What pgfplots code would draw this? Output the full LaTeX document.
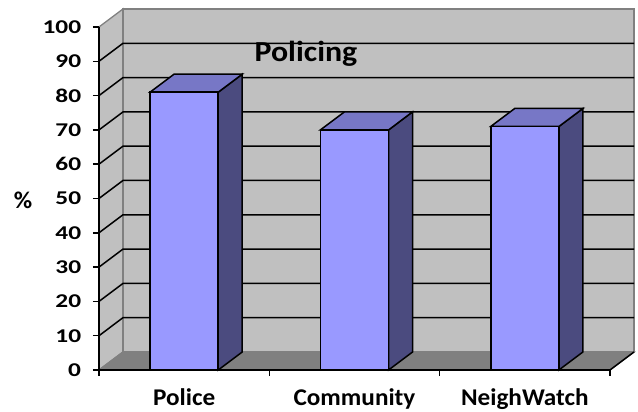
\documentclass[border=0pt]{standalone}
\usepackage{pgfplots}
\pgfplotsset{compat=1.18}
\usepackage{fontspec}
\setmainfont{Carlito}
\newfontfamily\tickfont{Carlito}[FakeStretch=1.3]
\newfontfamily\labfont{Carlito}[FakeStretch=1.05]
\newfontfamily\titfont{Carlito}[FakeStretch=1.1]
\definecolor{wall}{HTML}{C0C0C0}
\definecolor{wallline}{HTML}{808080}
\definecolor{floorc}{HTML}{808080}
\definecolor{barfront}{HTML}{9999FF}
\definecolor{bartop}{HTML}{7777C6}
\definecolor{barside}{HTML}{4B4B7F}
\begin{document}
\begin{tikzpicture}
\begin{axis}[
  width=511pt, height=343pt, scale only axis,
  xmin=0, xmax=3, ymin=0, ymax=100,
  clip=false, axis on top,
  axis x line=bottom, axis y line=left,
  axis line style={-, line width=1.5pt, black},
  ytick={0,10,...,100},
  xtick={0,1,2,3}, xticklabels={},
  extra x ticks={0.5,1.5,2.5},
  extra x tick labels={Police,Community,NeighWatch},
  extra x tick style={major tick length=0pt},
  tick align=outside,
  major tick length=6pt,
  tick style={black, line width=1.5pt},
  /pgf/number format/assume math mode=true,
  yticklabel style={font=\tickfont\bfseries\fontsize{19.5}{20}\selectfont, anchor=east, inner sep=0pt, xshift=-11.7pt},
  xticklabel style={font=\labfont\bfseries\fontsize{24}{26}\selectfont, anchor=base, inner sep=0pt, yshift=-35.3pt},
]
% back wall, side wall, floor
\addplot[fill=wall, draw=wallline, line width=1.3pt] coordinates {(0,0) (0,100) (0.1409,105.25) (0.1409,5.25)} -- cycle;
\addplot[fill=wall, draw=wallline, line width=1.3pt] coordinates {(0.1409,5.25) (0.1409,105.25) (3.1409,105.25) (3.1409,5.25)} -- cycle;
\addplot[fill=floorc, draw=wallline, line width=1.3pt] coordinates {(0,0) (0.1409,5.25) (3.1409,5.25) (3,0)} -- cycle;
\addplot[black, line width=1.5pt] coordinates {(3,0) (3.1409,5.25)};
% gridlines
\addplot[black, line width=1.5pt] coordinates {(0,10) (0.1409,15.25) (3.1409,15.25)};
\addplot[black, line width=1.5pt] coordinates {(0,20) (0.1409,25.25) (3.1409,25.25)};
\addplot[black, line width=1.5pt] coordinates {(0,30) (0.1409,35.25) (3.1409,35.25)};
\addplot[black, line width=1.5pt] coordinates {(0,40) (0.1409,45.25) (3.1409,45.25)};
\addplot[black, line width=1.5pt] coordinates {(0,50) (0.1409,55.25) (3.1409,55.25)};
\addplot[black, line width=1.5pt] coordinates {(0,60) (0.1409,65.25) (3.1409,65.25)};
\addplot[black, line width=1.5pt] coordinates {(0,70) (0.1409,75.25) (3.1409,75.25)};
\addplot[black, line width=1.5pt] coordinates {(0,80) (0.1409,85.25) (3.1409,85.25)};
\addplot[black, line width=1.5pt] coordinates {(0,90) (0.1409,95.25) (3.1409,95.25)};
% bars: side faces
\addplot[fill=barside, draw=black, line width=1.5pt] coordinates {(0.7,0) (0.7,81) (0.8409,86.25) (0.8409,5.25)} -- cycle;
\addplot[fill=barside, draw=black, line width=1.5pt] coordinates {(1.7,0) (1.7,70) (1.8409,75.25) (1.8409,5.25)} -- cycle;
\addplot[fill=barside, draw=black, line width=1.5pt] coordinates {(2.7,0) (2.7,71) (2.8409,76.25) (2.8409,5.25)} -- cycle;
% bars: top faces
\addplot[fill=bartop, draw=black, line width=1.5pt] coordinates {(0.3,81) (0.4409,86.25) (0.8409,86.25) (0.7,81)} -- cycle;
\addplot[fill=bartop, draw=black, line width=1.5pt] coordinates {(1.3,70) (1.4409,75.25) (1.8409,75.25) (1.7,70)} -- cycle;
\addplot[fill=bartop, draw=black, line width=1.5pt] coordinates {(2.3,71) (2.4409,76.25) (2.8409,76.25) (2.7,71)} -- cycle;
% bars: front faces
\addplot[ybar, bar width=0.4, fill=barfront, draw=black, line width=1.5pt] coordinates {(0.5,81) (1.5,70) (2.5,71)};
% texts
\node[font=\titfont\bfseries\fontsize{29}{30}\selectfont, anchor=base] at (axis cs:1.215,89.9) {Policing};
\node[font=\labfont\bfseries\fontsize{24}{26}\selectfont, anchor=base] at (axis cs:-0.446,47.2) {\%};
\coordinate (bbll) at (axis cs:-0.5812,-12.245);
\coordinate (bbur) at (axis cs:3.1644,107.87);
\end{axis}
\pgfresetboundingbox
\path[use as bounding box] (bbll) rectangle (bbur);
\end{tikzpicture}
\end{document}
